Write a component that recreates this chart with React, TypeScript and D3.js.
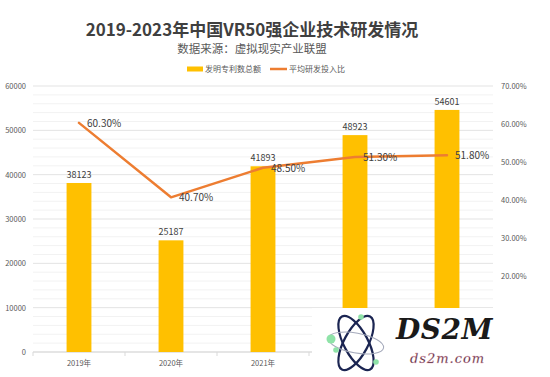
import React from "react";
import * as d3 from "d3";

const categories = ["2019年", "2020年", "2021年", "2022年", "2023年"];
const patents = [38123, 25187, 41893, 48923, 54601];
const rdRatio = [60.3, 40.7, 48.5, 51.3, 51.8];
const leftTicks = [0, 10000, 20000, 30000, 40000, 50000, 60000];
const rightTicks = [0, 10, 20, 30, 40, 50, 60, 70];
const title = "2019-2023年中国VR50强企业技术研发情况";
const subtitle = "数据来源：虚拟现实产业联盟";
const legendLabels = ["发明专利数总额", "平均研发投入比"];

const W = 550, H = 377;
const left = 33, right = 493, top = 86, bottom = 352;
const FONT = "'Noto Sans CJK SC', 'Noto Sans', sans-serif";

export default function App() {
  const x = d3.scaleBand<string>().domain(categories).range([left, right]).paddingInner(0.73).paddingOuter(0.365);
  const band = (right - left) / categories.length;
  const cx = (c: string) => (x(c) as number) + x.bandwidth() / 2;
  const yL = d3.scaleLinear().domain([0, 60000]).range([bottom, top]);
  const yR = d3.scaleLinear().domain([0, 70]).range([bottom, top]);
  const minor = d3.range(0, 60001, 2000);
  const line = d3.line<number>().x((_, i) => cx(categories[i])).y((d) => yR(d));
  const logoX = 312, logoY = 308;
  const visibleCat = (c: string) => cx(c) < logoX;

  return (
    <svg width={W} height={H} style={{ position: "absolute", left: 0, top: 0, background: "#fff" }} fontFamily={FONT}>
      <rect width={W} height={H} fill="#fff" />
      <text x={252} y={36} textAnchor="middle" fontSize={17} fontWeight="bold" fill="#3f3f3f">{title}</text>
      <text x={252} y={53} textAnchor="middle" fontSize={11.5} fill="#595959">{subtitle}</text>
      {/* legend */}
      <rect x={187} y={66.5} width={16} height={5} fill="#FFC000" />
      <text x={205} y={72} fontSize={8} fill="#595959">{legendLabels[0]}</text>
      <line x1={270} x2={287} y1={69} y2={69} stroke="#ED7D31" strokeWidth={2.5} />
      <text x={289} y={72} fontSize={8} fill="#595959">{legendLabels[1]}</text>
      {/* gridlines */}
      {minor.map((v) => (
        <line key={"m" + v} x1={left} x2={right} y1={yL(v)} y2={yL(v)} stroke={v % 10000 === 0 ? "#e3e3e3" : "#f2f2f2"} strokeWidth={1} />
      ))}
      {/* axis */}
      <line x1={left} x2={right} y1={bottom} y2={bottom} stroke="#d9d9d9" />
      {d3.range(categories.length + 1).map((i) => (
        <line key={"t" + i} x1={left + i * band} x2={left + i * band} y1={bottom} y2={bottom + 4} stroke="#d9d9d9" />
      ))}
      {leftTicks.map((v) => (
        <text key={"l" + v} x={26} y={yL(v) + 3} textAnchor="end" fontSize={7.5} fill="#595959">{v}</text>
      ))}
      {rightTicks.filter((v) => yR(v) < logoY).map((v) => (
        <text key={"r" + v} x={501} y={yR(v) + 3} fontSize={7.5} fill="#595959">{v.toFixed(2) + "%"}</text>
      ))}
      {categories.filter(visibleCat).map((c) => (
        <text key={"c" + c} x={cx(c)} y={bottom + 14} textAnchor="middle" fontSize={7.5} fill="#595959">{c}</text>
      ))}
      {/* bars */}
      {categories.map((c, i) => (
        <rect key={"b" + c} x={x(c)} y={yL(patents[i])} width={x.bandwidth()} height={bottom - yL(patents[i])} fill="#FFC000" />
      ))}
      {categories.map((c, i) => (
        <text key={"bl" + c} x={cx(c)} y={yL(patents[i]) - 5} textAnchor="middle" fontSize={9} fill="#404040">{patents[i]}</text>
      ))}
      {/* line */}
      <path d={line(rdRatio) || ""} fill="none" stroke="#ED7D31" strokeWidth={2.5} strokeLinejoin="round" strokeLinecap="round" />
      {categories.map((c, i) => (
        <text key={"pl" + c} x={cx(c) + 8} y={yR(rdRatio[i]) + 4} fontSize={10} fill="#404040">{rdRatio[i].toFixed(2) + "%"}</text>
      ))}
      {/* watermark logo */}
      <rect x={logoX} y={logoY} width={W - logoX} height={H - logoY} fill="#fff" />
      <g transform="translate(356,343)">
        <ellipse rx={30} ry={12} fill="none" stroke="#1b2552" strokeWidth={2.2} transform="rotate(62)" />
        <ellipse rx={30} ry={12} fill="none" stroke="#1b2552" strokeWidth={2.2} transform="rotate(-62)" />
        <ellipse rx={28} ry={10} fill="none" stroke="#a5aabb" strokeWidth={1} transform="rotate(10)" />
        <circle cx={-25} cy={-4} r={4.5} fill="#8fe3a8" />
        <circle cx={-20} cy={7} r={2.8} fill="#8fe3a8" />
        <circle cx={5} cy={-26} r={2.8} fill="#8fe3a8" />
        <circle cx={20} cy={19} r={2.8} fill="#8fe3a8" />
      </g>
      <text x={396} y={339} fontSize={28} fontWeight="bold" fontStyle="italic" fill="#1a1a1a" fontFamily="'DejaVu Serif', serif" letterSpacing={0.5}>DS2M</text>
      <text x={410} y={363} fontSize={13} fontStyle="italic" fill="#3a2030" stroke="#f0b0c0" strokeWidth={0.3} fontFamily="'DejaVu Serif', serif" letterSpacing={1}>ds2m.com</text>
    </svg>
  );
}
